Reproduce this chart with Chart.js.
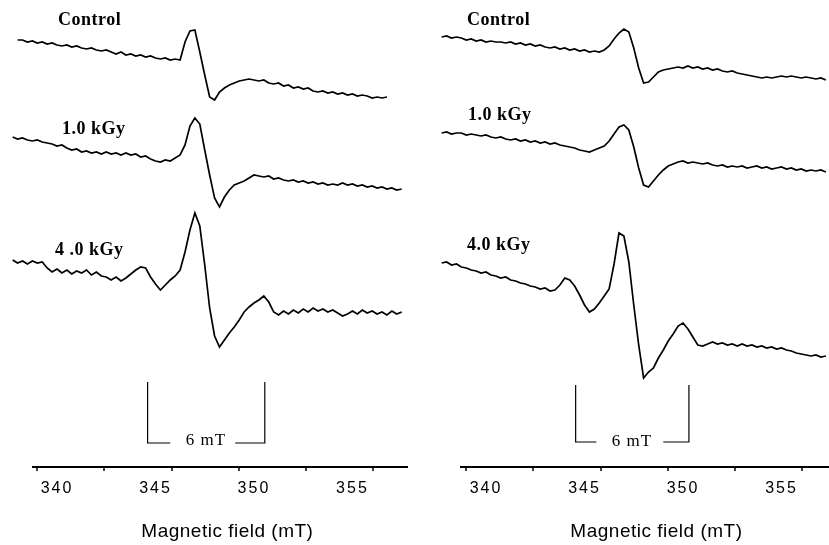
<!DOCTYPE html>
<html lang="en">
<head>
<meta charset="UTF-8">
<title>ESR spectra</title>
<script src="https://cdn.jsdelivr.net/npm/chart.js"></script>
<style>
  body { margin: 0; background: #fff; }
  .panel { position: absolute; top: 0; }
</style>
</head>
<body>
<div class="panel" style="left:0"><canvas id="leftChart" width="414" height="545"></canvas></div>
<div class="panel" style="left:414px"><canvas id="rightChart" width="415" height="545"></canvas></div>
<script>
// sampled magnetic field (mT)
const field = [
  337.75, 338, 338.25, 338.5, 338.75, 339, 339.25, 339.5, 339.75, 340,
  340.25, 340.5, 340.75, 341, 341.25, 341.5, 341.75, 342, 342.25, 342.5,
  342.75, 343, 343.25, 343.5, 343.75, 344, 344.25, 344.5, 344.75, 345,
  345.25, 345.5, 345.75, 346, 346.25, 346.5, 346.75, 347, 347.25, 347.5,
  347.75, 348, 348.25, 348.5, 348.75, 349, 349.25, 349.5, 349.75, 350,
  350.25, 350.5, 350.75, 351, 351.25, 351.5, 351.75, 352, 352.25, 352.5,
  352.75, 353, 353.25, 353.5, 353.75, 354, 354.25, 354.5, 354.75, 355,
  355.25, 355.5, 355.75, 356, 356.25, 356.5, 356.75, 357, 357.25, 357.5
];
const tickLabels = [340, 345, 350, 355];
const tickMarks = [339.0, 342.4, 345.85, 349.25, 352.65, 356.05];

// left panel, signal (a.u., spectra stacked as printed)
const controlLeft = [
  null, 460,
  460, 458, 459, 457, 458, 456, 457, 455, 454, 455,
  453, 454, 452, 451, 452, 450, 449, 450, 448, 446,
  448, 445, 446, 444, 445, 443, 444, 442, 441, 442,
  440, 441, 440, 458, 469, 470, 448, 425, 403, 400,
  408, 412, 415, 417, 419, 420, 421, 420, 419, 420,
  417, 416, 417, 414, 415, 412, 413, 411, 412, 409,
  408, 409, 407, 408, 406, 407, 405, 406, 404, 405,
  404, 402, 403, 402, 403,
  null, null, null
];
const kGy1Left = [
  363, 361, 362, 360, 359, 360, 358, 357, 356, 354,
  355, 352, 350, 351, 348, 349, 347, 348, 346, 348,
  346, 347, 345, 347, 345, 346, 343, 344, 341, 339,
  338, 340, 339, 342, 345, 355, 374, 382, 376, 350,
  325, 302, 293, 303, 310, 315, 317, 319, 322, 325,
  324, 323, 324, 321, 322, 320, 319, 320, 318, 319,
  317, 318, 316, 317, 315, 316, 315, 317, 315, 316,
  314, 315, 313, 314, 312, 313, 311, 312, 310, 311
];
const kGy4Left = [
  240, 237, 239, 236, 239, 237, 238, 232, 228, 231,
  227, 230, 226, 229, 227, 230, 225, 228, 224, 223,
  220, 223, 219, 222, 226, 230, 233, 232, 223, 216,
  210, 215, 220, 224, 230, 248, 270, 287, 274, 235,
  192, 164, 153, 160, 167, 173, 180, 188, 193, 197,
  200, 204, 198, 188, 185, 189, 186, 190, 187, 191,
  188, 192, 189, 191, 188, 190, 187, 184, 186, 189,
  186, 190, 187, 189, 186, 188, 185, 189, 186, 188
];

// right panel, signal (a.u.)
const controlRight = [
  463, 464, 462, 463, 462, 460, 461, 459, 460, 458,
  459, 458, 458, 457, 458, 456, 457, 455, 456, 454,
  455, 453, 452, 453, 451, 452, 450, 451, 449, 450,
  448, 449, 448, 450, 454, 461, 467, 471, 468, 452,
  432, 417, 418, 423, 428, 430, 431, 432, 433, 432,
  434, 432, 433, 431, 432, 430, 431, 429, 428, 429,
  427, 426, 425, 424, 423, 422, 423, 422, 423, 424,
  423, 424, 423, 422, 423, 422, 421, 422, 420, null
];
const kGy1Right = [
  367, 368, 366, 367, 367, 365, 366, 365, 364, 365,
  363, 362, 363, 361, 360, 361, 359, 360, 358, 359,
  357, 358, 356, 357, 355, 354, 353, 352, 350, 349,
  348, 350, 352, 354, 359, 366, 373, 375, 370, 353,
  332, 315, 313, 319, 325, 330, 334, 336, 338, 339,
  337, 338, 337, 336, 337, 335, 334, 335, 333, 334,
  333, 334, 332, 333, 334, 332, 333, 331, 332, 333,
  331, 332, 330, 331, 329, 330, 329, 330, 328, null
];
const kGy4Right = [
  237, 238, 235, 236, 233, 232, 230, 229, 227, 228,
  225, 224, 222, 223, 220, 219, 217, 216, 214, 213,
  211, 212, 209, 210, 215, 222, 220, 214, 205, 195,
  188, 191, 197, 204, 211, 236, 267, 264, 238, 195,
  155, 122, 128, 132, 142, 150, 159, 166, 174, 177,
  171, 163, 155, 154, 156, 158, 156, 157, 155, 156,
  154, 156, 154, 155, 153, 154, 152, 153, 151, 152,
  150, 149, 147, 146, 145, 144, 145, 143, 144, null
];

// 6 mT scale bars
const barFieldLeft = [344.6, 344.6, 345.75, null, 349.05, 350.55, 350.55];
const barAmpLeft = [118, 57, 57, null, 57, 57, 118];
const barFieldRight = [344.55, 344.55, 345.6, null, 349.0, 350.3, 350.3];
const barAmpRight = [115, 58, 58, null, 58, 58, 115];

function series(vals) {
    return field.map((f, k) => ({ x: f, y: vals[k] === undefined ? null : vals[k] }));
}

function trace(vals) {
    return { data: series(vals), borderColor: '#000', borderWidth: 1.7, pointRadius: 0, tension: 0, clip: false, spanGaps: false };
}

function bar(fs, as) {
    return { data: fs.map((f, k) => ({ x: f, y: as[k] })), borderColor: '#000', borderWidth: 1.2, pointRadius: 0, clip: false, spanGaps: false };
}

// axis line, tick marks, labels and axis title
const annotate = {
    id: 'annotate',
    beforeDraw(chart) {
        chart.ctx.letterSpacing = '2px';
    },
    afterDraw(chart) {
        const ctx = chart.ctx;
        const x = chart.scales.x, y = chart.scales.y;
        const o = chart.options.plugins.annotate;
        ctx.save();
        ctx.strokeStyle = '#000';
        ctx.lineWidth = 2;
        ctx.beginPath();
        ctx.moveTo(x.getPixelForValue(o.axisStart), x.top);
        ctx.lineTo(x.right, x.top);
        ctx.stroke();
        ctx.lineWidth = 1.5;
        tickMarks.forEach(v => {
            const px = Math.round(x.getPixelForValue(v));
            ctx.beginPath();
            ctx.moveTo(px, x.top);
            ctx.lineTo(px, x.top + 4);
            ctx.stroke();
        });
        ctx.fillStyle = '#000';
        ctx.textBaseline = 'middle';
        ctx.letterSpacing = '0.5px';
        ctx.font = 'bold 18px "Liberation Serif"';
        ctx.textAlign = 'left';
        o.labels.forEach(l => ctx.fillText(l.text, x.getPixelForValue(l.field), y.getPixelForValue(l.amp)));
        ctx.letterSpacing = '1px';
        ctx.font = '17px "Liberation Serif"';
        ctx.textAlign = 'center';
        ctx.fillText('6 mT', x.getPixelForValue(o.barText[0]), y.getPixelForValue(o.barText[1]));
        ctx.letterSpacing = '0.5px';
        ctx.font = '19px "Liberation Sans"';
        ctx.fillText('Magnetic field (mT)', x.getPixelForValue(348.65), x.bottom - 13);
        ctx.restore();
    }
};

function makeChart(id, sets, range, axisStart, pad, labels, barText) {
    return new Chart(document.getElementById(id), {
        type: 'line',
        data: { datasets: sets },
        plugins: [annotate],
        options: {
            responsive: false,
            animation: false,
            layout: { padding: pad },
            plugins: {
                legend: { display: false },
                tooltip: { enabled: false },
                annotate: { labels: labels, barText: barText, axisStart: axisStart }
            },
            scales: {
                x: {
                    type: 'linear',
                    min: range[0],
                    max: range[1],
                    afterBuildTicks: s => { s.ticks = tickLabels.map(v => ({ value: v })); },
                    afterFit: s => { s.height = 78; },
                    grid: { display: true, drawOnChartArea: false, drawTicks: false },
                    border: { display: false },
                    ticks: {
                        color: '#000',
                        autoSkip: false,
                        maxRotation: 0,
                        padding: 12,
                        font: { family: 'Liberation Sans', size: 16 }
                    }
                },
                y: { display: false, min: 33, max: 500 }
            }
        }
    });
}

makeChart('leftChart',
    [trace(controlLeft), trace(kGy1Left), trace(kGy4Left), bar(barFieldLeft, barAmpLeft)],
    [337.614, 357.82], 338.73,
    { left: 10, right: 6, top: 0, bottom: 0 },
    [
        { text: 'Control', field: 340.05, amp: 480 },
        { text: '1.0 kGy', field: 340.25, amp: 371 },
        { text: '4 .0 kGy', field: 339.9, amp: 250 }
    ],
    [347.56, 59]);

makeChart('rightChart',
    [trace(controlRight), trace(kGy1Right), trace(kGy4Right), bar(barFieldRight, barAmpRight)],
    [337.665, 357.41], 338.68,
    { left: 26, right: 0, top: 0, bottom: 0 },
    [
        { text: 'Control', field: 339.04, amp: 480 },
        { text: '1.0 kGy', field: 339.09, amp: 385 },
        { text: '4.0 kGy', field: 339.04, amp: 255 }
    ],
    [347.41, 58]);
</script>
</body>
</html>
